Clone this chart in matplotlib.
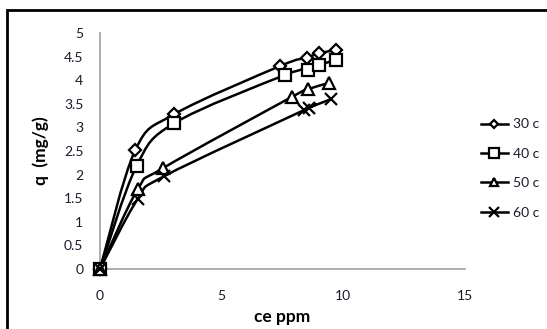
import matplotlib.pyplot as plt
from matplotlib.path import Path
from matplotlib.patches import PathPatch, Rectangle
from matplotlib.lines import Line2D
import numpy as np

plt.rcParams['font.family'] = ['Lato', 'DejaVu Sans']

# adsorption isotherm data, q vs equilibrium concentration
ce_30 = [0, 1.45, 3.05, 7.4, 8.5, 9.0, 9.7]
q_30 = [0, 2.52, 3.28, 4.30, 4.48, 4.57, 4.64]
ce_40 = [0, 1.5, 3.05, 7.6, 8.55, 9.0, 9.7]
q_40 = [0, 2.18, 3.09, 4.11, 4.22, 4.32, 4.43]
ce_50 = [0, 1.55, 2.6, 7.9, 8.55, 9.4]
q_50 = [0, 1.69, 2.14, 3.65, 3.81, 3.94]
ce_60 = [0, 1.55, 2.65, 8.4, 8.6, 9.5]
q_60 = [0, 1.48, 1.97, 3.37, 3.42, 3.60]

# label, x, y, marker, plot size, legend size
series = [
    ('30 c', ce_30, q_30, 'D', 6.5, 4.5),
    ('40 c', ce_40, q_40, 's', 8, 6.5),
    ('50 c', ce_50, q_50, '^', 8.5, 6),
    ('60 c', ce_60, q_60, 'x', 8, 6.5),
]

xticks = [0, 5, 10, 15]
yticks = [0, 0.5, 1, 1.5, 2, 2.5, 3, 3.5, 4, 4.5, 5]
ytick_labels = ['0', '0.5', '1', '1.5', '2', '2.5', '3', '3.5', '4', '4.5', '5']


def smooth_path(x, y):
    # Catmull-Rom through the points, as cubic bezier segments
    pts = np.column_stack([x, y]).astype(float)
    verts = [pts[0]]
    codes = [Path.MOVETO]
    n = len(pts)
    for i in range(n - 1):
        p0 = pts[i - 1] if i > 0 else pts[i]
        p1 = pts[i]
        p2 = pts[i + 1]
        p3 = pts[i + 2] if i + 2 < n else pts[i + 1]
        c1 = p1 + (p2 - p0) / 6
        c2 = p2 - (p3 - p1) / 6
        verts += [c1, c2, p2]
        codes += [Path.CURVE4] * 3
    return Path(verts, codes)


fig = plt.figure(figsize=(5.47, 3.29), dpi=100)
fig.patches.append(Rectangle((7 / 547, -0.1), 1.2, 1 - 10 / 329 + 0.1,
                             transform=fig.transFigure, fill=False,
                             edgecolor='black', linewidth=2))
ax = fig.add_axes([100 / 547, 1 - 269 / 329, 365 / 547, 236 / 329])

handles = []
for name, xs, ys, mk, ms, lms in series:
    ax.add_patch(PathPatch(smooth_path(xs, ys), fill=False,
                           edgecolor='black', linewidth=1.8, zorder=2))
    ax.plot(xs, ys, linestyle='none', marker=mk, markersize=ms,
            markerfacecolor='white', markeredgecolor='black',
            markeredgewidth=1.6, clip_on=False, zorder=3)
    handles.append(Line2D([], [], color='black', linewidth=1.8, marker=mk,
                          markersize=lms, markerfacecolor='white',
                          markeredgecolor='black', markeredgewidth=1.6))

ax.set_xlim(0, 15)
ax.set_ylim(0, 5)
ax.set_xticks(xticks)
ax.set_yticks(yticks)
ax.set_yticklabels(ytick_labels)
ax.tick_params(length=0, labelsize=10, colors='#1a1a2a')
ax.tick_params(axis='x', pad=15)
ax.tick_params(axis='y', pad=12)
for s in ['top', 'right']:
    ax.spines[s].set_visible(False)
for s in ['left', 'bottom']:
    ax.spines[s].set_color('#a0a0a0')
    ax.spines[s].set_linewidth(1.2)

ax.set_xlabel('ce ppm', fontsize=12.5, fontweight='bold', labelpad=5)
ax.set_ylabel('q  (mg/g)', fontsize=12.5, fontweight='bold', labelpad=11)

fig.legend(handles, [s[0] for s in series], loc='upper left',
           bbox_to_anchor=(468 / 547, 1 - 106 / 329), frameon=False,
           fontsize=10, handlelength=2.0, handletextpad=0.35,
           labelspacing=1.25, labelcolor='#1a1a2a')

fig.savefig('out.png', dpi=100)
